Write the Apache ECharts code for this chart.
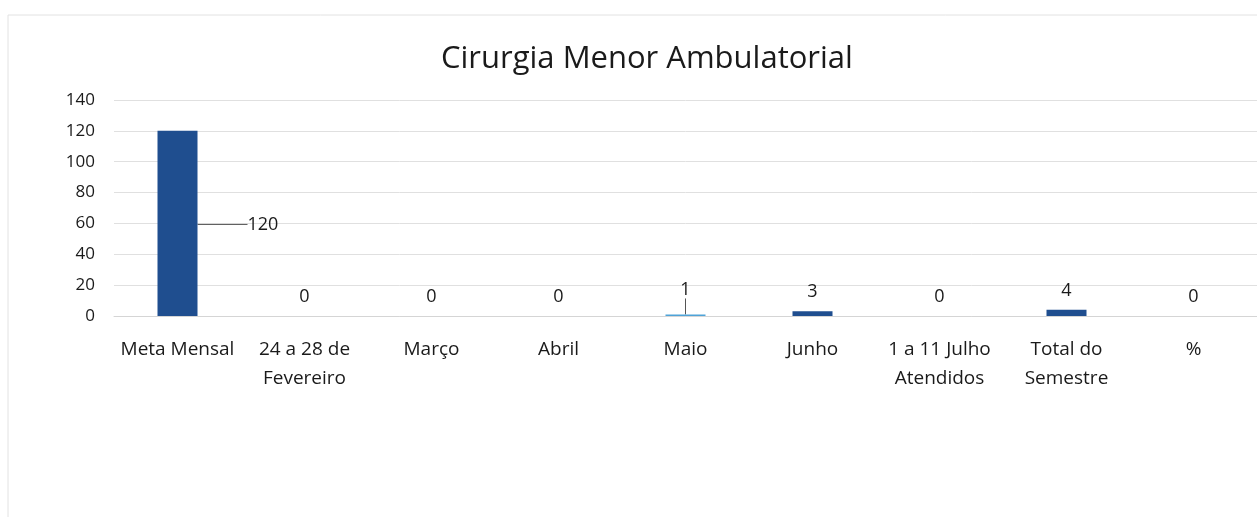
<!DOCTYPE html>
<html>
<head>
<meta charset="utf-8">
<script src="https://cdn.jsdelivr.net/npm/echarts@6/dist/echarts.min.js"></script>
<style>
    html, body { margin: 0; padding: 0; background: #fff; }
    #chart { width: 1257px; height: 517px; }
</style>
</head>
<body>
<div id="chart"></div>
<script>
// dados do gráfico
const categorias = ['Meta Mensal', '24 a 28 de\nFevereiro', 'Março', 'Abril', 'Maio', 'Junho', '1 a 11 Julho\nAtendidos', 'Total do\nSemestre', '%'];
const valores = [120, 0, 0, 0, 1, 3, 0, 4, 0];
const corBarra = ['#1f4e8f', '#1f4e8f', '#1f4e8f', '#1f4e8f', '#4fa3d8', '#1f4e8f', '#1f4e8f', '#1f4e8f', '#1f4e8f'];
const comLinhaGuia = [true, false, false, false, true, false, false, false, false];
const yTicks = { min: 0, max: 140, interval: 20 };

let chart = echarts.init(document.getElementById('chart'));

const fonte = 'Open Sans, Liberation Sans, sans-serif';

let option = {
    backgroundColor: '#fff',
    title: {
        text: 'Cirurgia Menor Ambulatorial',
        left: 436,
        top: 39,
        textStyle: { fontFamily: fonte, fontSize: 31, fontWeight: 'normal', color: '#1a1a1a' }
    },
    grid: {
        left: 114,
        right: -14,
        top: 100,
        height: 216
    },
    xAxis: {
        type: 'category',
        data: categorias,
        axisLine: { lineStyle: { color: '#d5d5d5' } },
        axisTick: { show: false },
        axisLabel: { fontFamily: fonte, fontSize: 19, color: '#1a1a1a', margin: 19, lineHeight: 29, interval: 0 }
    },
    yAxis: {
        type: 'value',
        min: yTicks.min,
        max: yTicks.max,
        interval: yTicks.interval,
        axisLine: { show: false },
        axisTick: { show: false },
        splitLine: { lineStyle: { color: '#e0e0e0' } },
        axisLabel: { fontFamily: fonte, fontSize: 17, color: '#1a1a1a', margin: 19 }
    },
    series: [{
        type: 'bar',
        barWidth: 40,
        data: valores.map(function (v, i) {
            return {
                value: v,
                itemStyle: { color: corBarra[i] },
                labelLine: { show: comLinhaGuia[i] }
            };
        }),
        label: {
            show: true,
            position: 'top',
            distance: 10,
            fontFamily: fonte,
            fontSize: 18,
            color: '#1a1a1a'
        },
        labelLine: { show: false, lineStyle: { color: '#555', width: 1 } },
        labelLayout: function (params) {
            // rótulo do 120 deslocado para a direita, como no original
            if (params.dataIndex === 0) {
                return { x: params.rect.x + params.rect.width + 50, y: params.rect.y + params.rect.height / 2 - 8 };
            }
            if (params.dataIndex === 4) {
                return { dy: -6 };
            }
        }
    }],
    graphic: [{
        type: 'rect',
        shape: { x: 8, y: 15, width: 1260, height: 520 },
        style: { fill: 'none', stroke: '#e2e2e2', lineWidth: 1 }
    }]
};

chart.setOption(option);
</script>
</body>
</html>
